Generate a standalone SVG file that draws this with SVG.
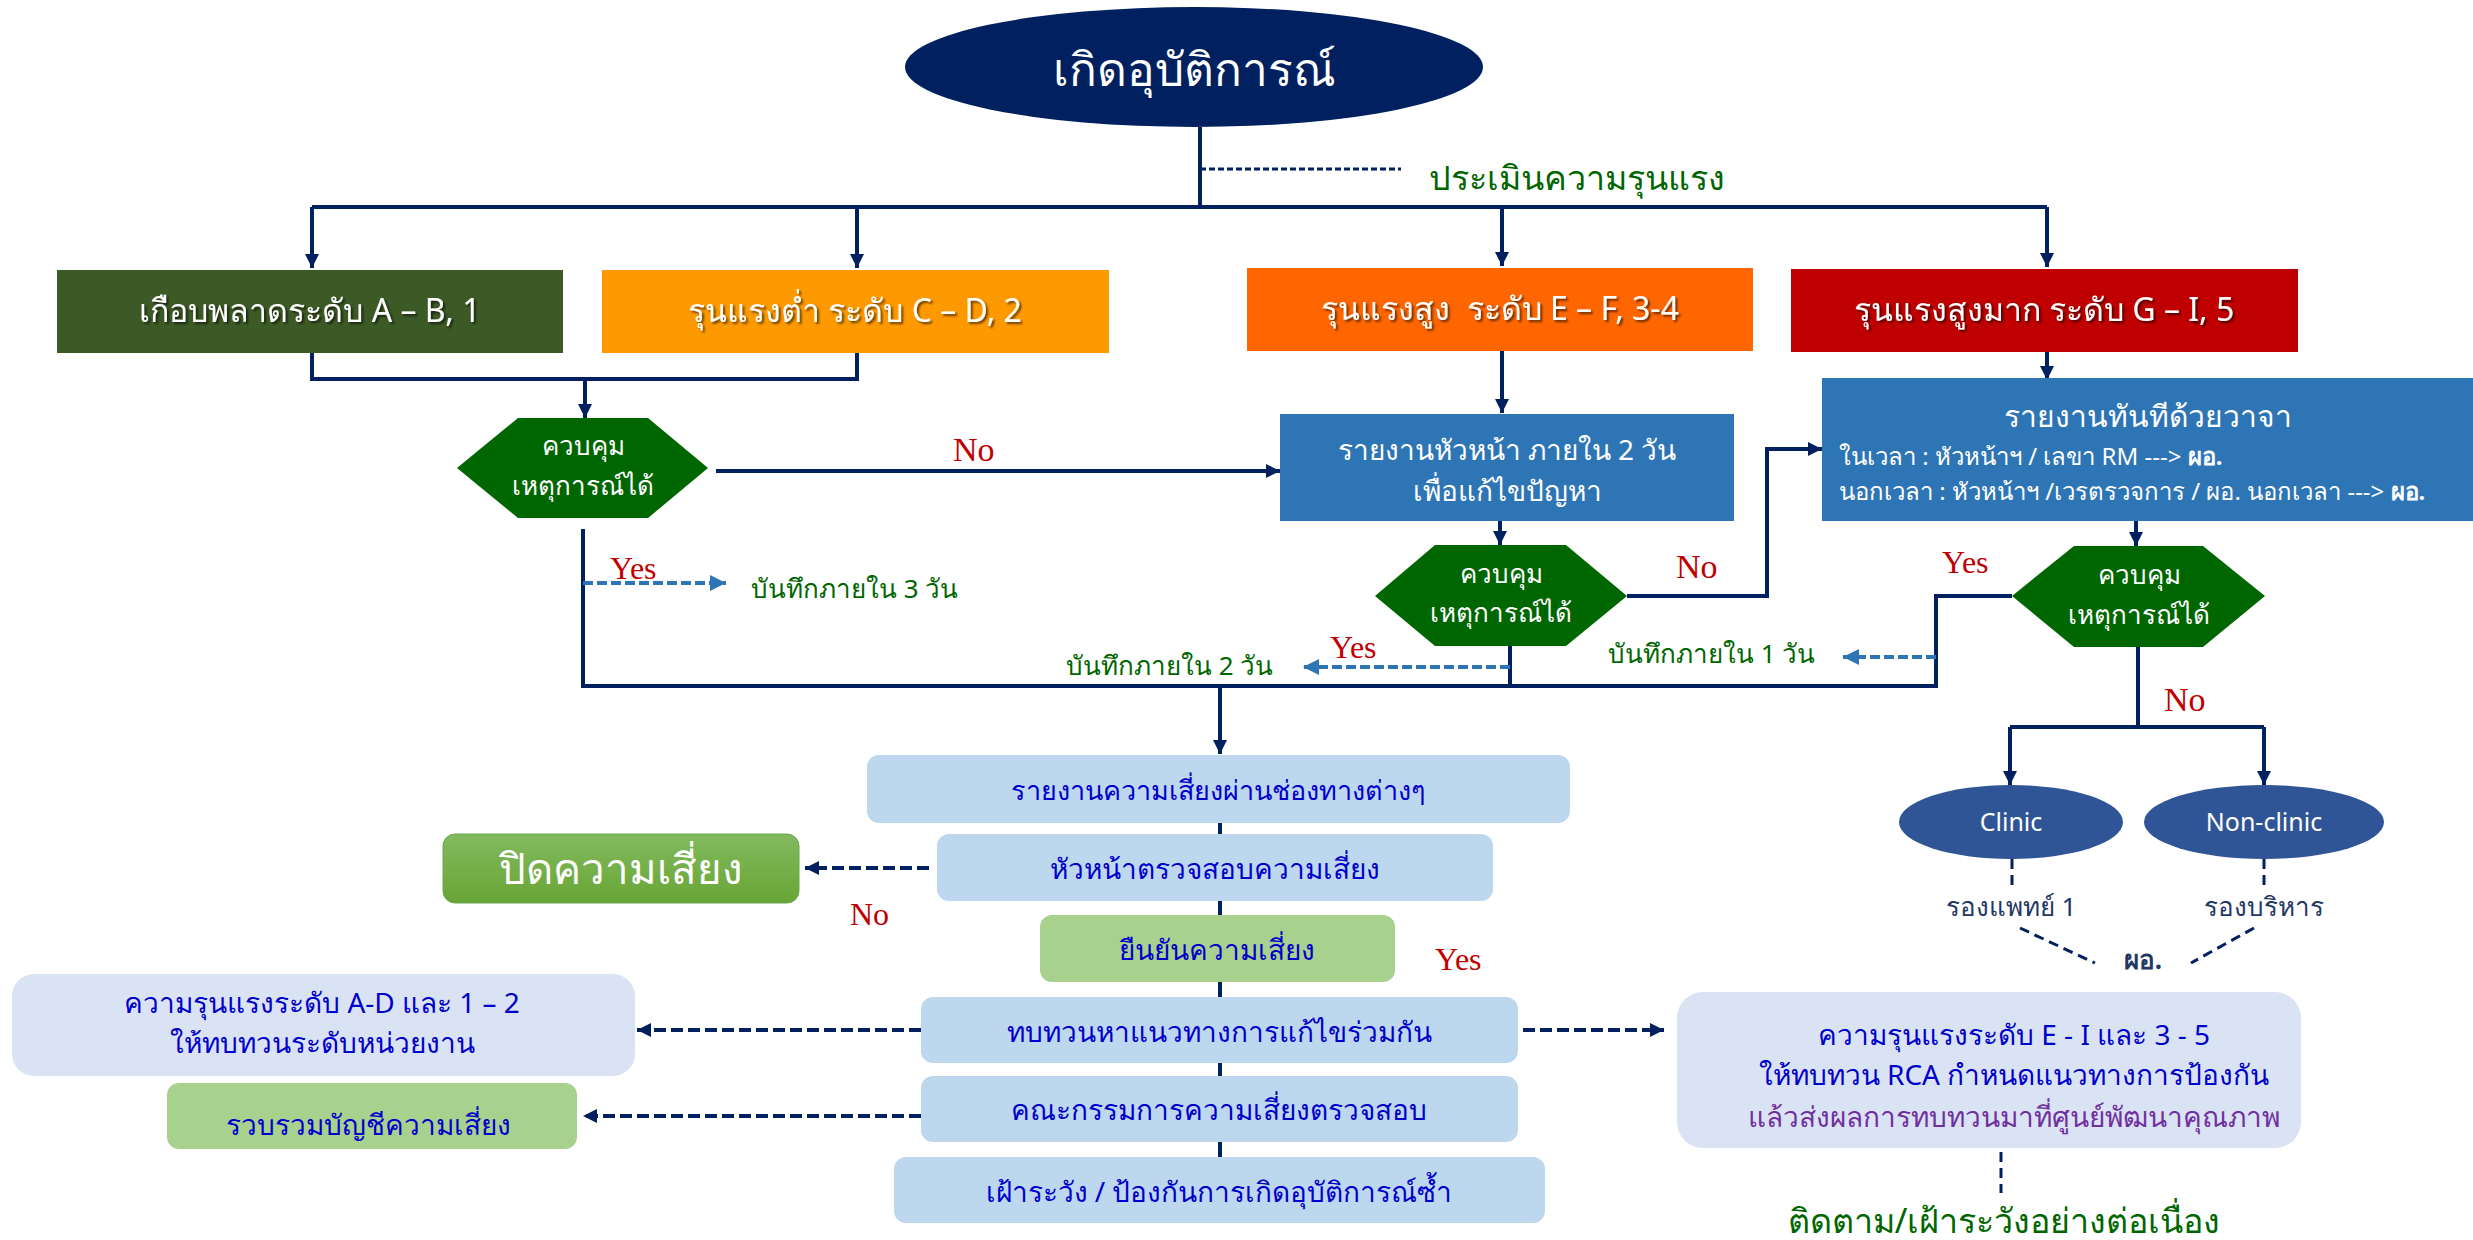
<svg xmlns="http://www.w3.org/2000/svg" width="2473" height="1240" viewBox="0 0 2473 1240">
<defs>
<style>
text{font-family:"Noto Sans","Liberation Sans",sans-serif;}
.w{fill:#ffffff;}
.c{text-anchor:middle;}
.b{fill:#0000CC;}
.g{fill:#006600;}
.r{fill:#C00000;font-family:"Liberation Serif",serif;}
.n{fill:#1F3864;}
.ln{fill:none;stroke:#002060;stroke-width:4;}
.dn{fill:none;stroke:#002060;stroke-width:4;stroke-dasharray:12 5;}
.db{fill:none;stroke:#2E75B6;stroke-width:4;stroke-dasharray:10 4;}
.dl{fill:none;stroke:#002060;stroke-width:3;stroke-dasharray:10 6;}
.lb{fill:#BDD7EE;}
.pb{fill:#DAE3F3;}
.gb{fill:#A9D18E;}
.hex{fill:#006600;}
</style>
<marker id="ah" viewBox="0 0 10 10" refX="10" refY="5" markerWidth="16" markerHeight="14" markerUnits="userSpaceOnUse" orient="auto"><path d="M0,0 L10,5 L0,10 z" fill="#002060"/></marker>
<marker id="ab" viewBox="0 0 10 10" refX="10" refY="5" markerWidth="16" markerHeight="16" markerUnits="userSpaceOnUse" orient="auto"><path d="M0,0 L10,5 L0,10 z" fill="#2E75B6"/></marker>
<linearGradient id="gg" x1="0" y1="0" x2="0" y2="1"><stop offset="0" stop-color="#82BA5E"/><stop offset="1" stop-color="#68A535"/></linearGradient>
<filter id="sh" x="-5%" y="-20%" width="110%" height="140%"><feDropShadow dx="2" dy="2" stdDeviation="1" flood-color="#000" flood-opacity="0.6"/></filter>
</defs>
<rect width="2473" height="1240" fill="#ffffff"/>

<g id="connectors">
<path class="ln" d="M1200,127 V207"/>
<path d="M1200,169 H1401" fill="none" stroke="#002060" stroke-width="3" stroke-dasharray="6 3"/>
<path class="ln" stroke-width="5" d="M312,207 H2047"/>
<path class="ln" d="M312,207 V268" marker-end="url(#ah)"/>
<path class="ln" d="M857,207 V268" marker-end="url(#ah)"/>
<path class="ln" d="M1502,207 V266" marker-end="url(#ah)"/>
<path class="ln" d="M2047,207 V267" marker-end="url(#ah)"/>
<path class="ln" d="M312,353 V379 H857 V353"/>
<path class="ln" d="M585,379 V418" marker-end="url(#ah)"/>
<path class="ln" d="M716,471 H1280" marker-end="url(#ah)"/>
<path class="ln" d="M583,529 V686 H1936 V596 H2012"/>
<path class="ln" d="M1510,646 V686"/>
<path class="ln" d="M1220,686 V754" marker-end="url(#ah)"/>
<path class="ln" d="M1502,351 V413" marker-end="url(#ah)"/>
<path class="ln" d="M1500,521 V545" marker-end="url(#ah)"/>
<path class="ln" d="M1627,596 H1767 V449 H1822" marker-end="url(#ah)"/>
<path class="ln" d="M2047,352 V380" marker-end="url(#ah)"/>
<path class="ln" d="M2136,521 V546" marker-end="url(#ah)"/>
<path class="ln" d="M2138,647 V727"/>
<path class="ln" d="M2010,727 H2264"/>
<path class="ln" d="M2010,727 V785" marker-end="url(#ah)"/>
<path class="ln" d="M2264,727 V785" marker-end="url(#ah)"/>
<path class="db" d="M583,583 H726" marker-end="url(#ab)"/>
<path class="db" d="M1510,667 H1303" marker-end="url(#ab)"/>
<path class="db" d="M1936,657 H1843" marker-end="url(#ab)"/>
<path class="ln" d="M1220,822 V1157"/>
<path class="dn" d="M929,868 H805" marker-end="url(#ah)"/>
<path class="dn" d="M921,1030 H637" marker-end="url(#ah)"/>
<path class="dn" d="M921,1116 H583" marker-end="url(#ah)"/>
<path class="dn" d="M1523,1030 H1664" marker-end="url(#ah)"/>
<path class="dl" d="M2012,859 V887"/>
<path class="dl" d="M2264,859 V887"/>
<path class="dl" d="M2020,928 L2095,963"/>
<path class="dl" d="M2254,928 L2191,963"/>
<path class="dl" d="M2001,1152 V1193"/>
</g>

<g id="start">
<ellipse cx="1194" cy="67" rx="289" ry="60" fill="#002060"/>
<text class="w c" x="1194" y="86" font-size="46">เกิดอุบัติการณ์</text>
</g>
<g id="assess">
<text class="g" x="1429" y="190" font-size="34">ประเมินความรุนแรง</text>
</g>

<g id="level1">
<rect x="57" y="270" width="506" height="83" fill="#3C5A25"/>
<text class="w c" x="310" y="322" font-size="32" filter="url(#sh)">เกือบพลาดระดับ A – B, 1</text>
</g>
<g id="level2">
<rect x="602" y="270" width="507" height="83" fill="#FF9900"/>
<text class="w c" x="855" y="322" font-size="32" filter="url(#sh)">รุนแรงต่ำ ระดับ C – D, 2</text>
</g>
<g id="level3">
<rect x="1247" y="268" width="506" height="83" fill="#FF6600"/>
<text class="w c" x="1500" y="320" font-size="32" filter="url(#sh)" xml:space="preserve">รุนแรงสูง  ระดับ E – F, 3-4</text>
</g>
<g id="level4">
<rect x="1791" y="269" width="507" height="83" fill="#C00000"/>
<text class="w c" x="2044" y="321" font-size="32" filter="url(#sh)">รุนแรงสูงมาก ระดับ G – I, 5</text>
</g>

<g id="decision1">
<polygon class="hex" points="518,418 648,418 708,468 648,518 518,518 457,468"/>
<text class="w c" x="583" y="455" font-size="26">ควบคุม</text>
<text class="w c" x="583" y="495" font-size="26">เหตุการณ์ได้</text>
</g>

<g id="report-head">
<rect x="1280" y="414" width="454" height="107" fill="#2E75B6"/>
<text class="w c" x="1507" y="460" font-size="28">รายงานหัวหน้า ภายใน 2 วัน</text>
<text class="w c" x="1507" y="501" font-size="28">เพื่อแก้ไขปัญหา</text>
</g>

<g id="decision2">
<polygon class="hex" points="1435,545 1566,545 1627,596 1566,646 1435,646 1375,596"/>
<text class="w c" x="1501" y="583" font-size="26">ควบคุม</text>
<text class="w c" x="1501" y="622" font-size="26">เหตุการณ์ได้</text>
</g>

<g id="report-now">
<rect x="1822" y="378" width="651" height="143" fill="#2E75B6"/>
<text class="w c" x="2148" y="427" font-size="30">รายงานทันทีด้วยวาจา</text>
<text class="w" x="1839" y="465" font-size="24">ในเวลา : หัวหน้าฯ / เลขา RM ---&gt; <tspan font-weight="bold">ผอ.</tspan></text>
<text class="w" x="1839" y="500" font-size="24">นอกเวลา : หัวหน้าฯ /เวรตรวจการ / ผอ. นอกเวลา ---&gt; <tspan font-weight="bold">ผอ.</tspan></text>
</g>

<g id="decision3">
<polygon class="hex" points="2074,546 2203,546 2265,596 2203,647 2074,647 2012,596"/>
<text class="w c" x="2139" y="584" font-size="26">ควบคุม</text>
<text class="w c" x="2139" y="624" font-size="26">เหตุการณ์ได้</text>
</g>

<g id="labels">
<text class="r" x="953" y="461" font-size="34">No</text>
<text class="r" x="610" y="579" font-size="32">Yes</text>
<text class="g" x="751" y="598" font-size="26">บันทึกภายใน 3 วัน</text>
<text class="g" x="1066" y="675" font-size="26">บันทึกภายใน 2 วัน</text>
<text class="r" x="1330" y="658" font-size="32">Yes</text>
<text class="r" x="1676" y="578" font-size="34">No</text>
<text class="g" x="1608" y="663" font-size="26">บันทึกภายใน 1 วัน</text>
<text class="r" x="1942" y="573" font-size="32">Yes</text>
<text class="r" x="2164" y="711" font-size="34">No</text>
<text class="r" x="850" y="925" font-size="32">No</text>
<text class="r" x="1435" y="970" font-size="32">Yes</text>
</g>

<g id="clinic">
<ellipse cx="2011" cy="822" rx="112" ry="37" fill="#2F5597"/>
<text class="w c" x="2011" y="831" font-size="25">Clinic</text>
</g>
<g id="nonclinic">
<ellipse cx="2264" cy="822" rx="120" ry="37" fill="#2F5597"/>
<text class="w c" x="2264" y="831" font-size="25">Non-clinic</text>
</g>
<g id="deputy-med"><text class="n c" x="2011" y="916" font-size="26">รองแพทย์ 1</text></g>
<g id="deputy-adm"><text class="n c" x="2264" y="916" font-size="26">รองบริหาร</text></g>
<g id="director"><text class="n c" x="2143" y="969" font-size="26" font-weight="bold">ผอ.</text></g>

<g id="m1">
<rect class="lb" x="867" y="755" width="703" height="68" rx="12"/>
<text class="b c" x="1218" y="800" font-size="27">รายงานความเสี่ยงผ่านช่องทางต่างๆ</text>
</g>
<g id="m2">
<rect class="lb" x="937" y="834" width="556" height="67" rx="12"/>
<text class="b c" x="1215" y="879" font-size="28">หัวหน้าตรวจสอบความเสี่ยง</text>
</g>
<g id="m3">
<rect class="gb" x="1040" y="915" width="355" height="67" rx="12"/>
<text class="b c" x="1217" y="960" font-size="28">ยืนยันความเสี่ยง</text>
</g>
<g id="m4">
<rect class="lb" x="921" y="997" width="597" height="66" rx="12"/>
<text class="b c" x="1219" y="1042" font-size="28">ทบทวนหาแนวทางการแก้ไขร่วมกัน</text>
</g>
<g id="m5">
<rect class="lb" x="921" y="1076" width="597" height="66" rx="12"/>
<text class="b c" x="1219" y="1120" font-size="28">คณะกรรมการความเสี่ยงตรวจสอบ</text>
</g>
<g id="m6">
<rect class="lb" x="894" y="1157" width="651" height="66" rx="12"/>
<text class="b c" x="1219" y="1202" font-size="28">เฝ้าระวัง / ป้องกันการเกิดอุบัติการณ์ซ้ำ</text>
</g>

<g id="close-risk">
<rect x="443" y="834" width="356" height="69" rx="12" fill="url(#gg)" stroke="#6AA84F" stroke-width="1"/>
<text class="w c" x="621" y="884" font-size="42">ปิดความเสี่ยง</text>
</g>
<g id="unit-review">
<rect class="pb" x="12" y="974" width="623" height="102" rx="22"/>
<text class="b c" x="322" y="1013" font-size="28">ความรุนแรงระดับ A-D และ 1 – 2</text>
<text class="b c" x="322" y="1053" font-size="28">ให้ทบทวนระดับหน่วยงาน</text>
</g>
<g id="risk-list">
<rect class="gb" x="167" y="1083" width="410" height="66" rx="12"/>
<text class="b c" x="368" y="1135" font-size="28">รวบรวมบัญชีความเสี่ยง</text>
</g>
<g id="rca-review">
<rect class="pb" x="1677" y="992" width="624" height="156" rx="26"/>
<text class="b c" x="2014" y="1045" font-size="28">ความรุนแรงระดับ E - I และ 3 - 5</text>
<text class="b c" x="2014" y="1085" font-size="28">ให้ทบทวน RCA กำหนดแนวทางการป้องกัน</text>
<text class="c" x="2014" y="1127" font-size="28" fill="#7030A0">แล้วส่งผลการทบทวนมาที่ศูนย์พัฒนาคุณภาพ</text>
</g>
<g id="follow-up">
<text class="g c" x="2004" y="1233" font-size="34">ติดตาม/เฝ้าระวังอย่างต่อเนื่อง</text>
</g>
</svg>
